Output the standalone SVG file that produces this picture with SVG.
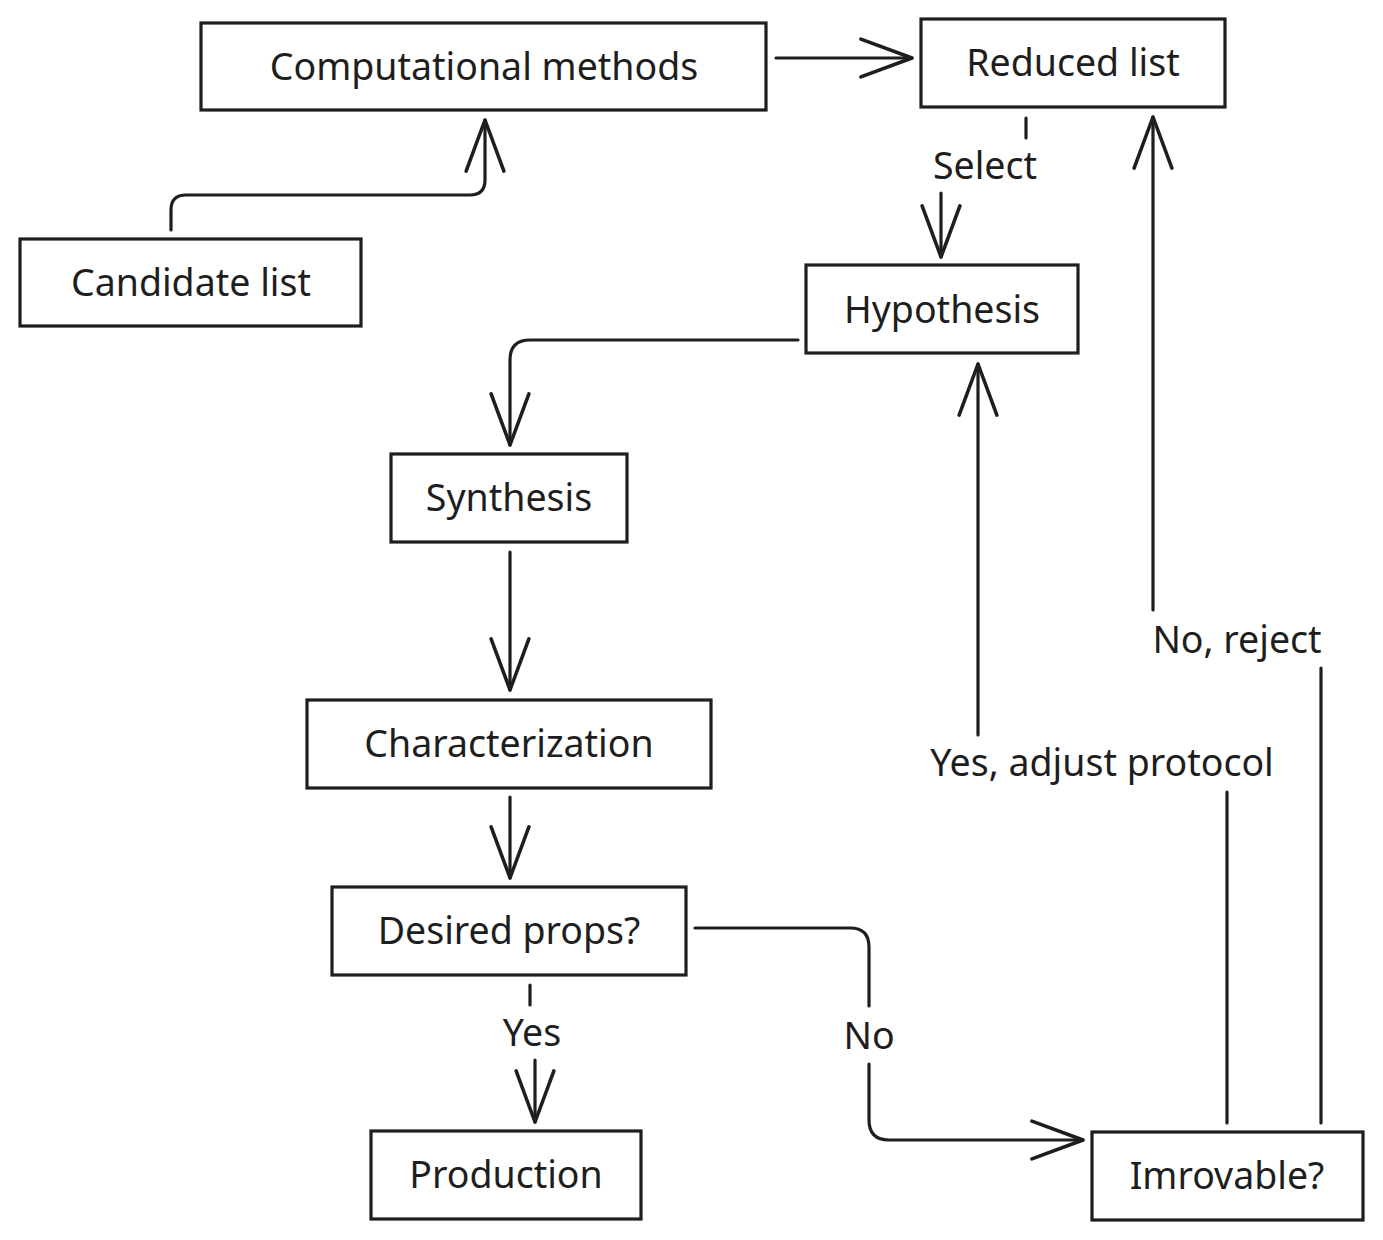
<svg xmlns="http://www.w3.org/2000/svg" width="1383" height="1240" viewBox="0 0 1383 1240">
<style>
.box{fill:#fff;stroke:#1e1e1e;stroke-width:3.2}
.t{font-family:"Noto Sans","Open Sans",sans-serif;font-size:37.5px;fill:#1e1e1e;text-anchor:middle;dominant-baseline:central}
.c{fill:none;stroke:#1e1e1e;stroke-width:3.2;stroke-linecap:round;stroke-linejoin:round}
</style>
<defs>
<marker id="ah" markerUnits="userSpaceOnUse" orient="auto" markerWidth="60" markerHeight="50" refX="0" refY="0" viewBox="-50 -22 54 44" overflow="visible">
<path d="M-46,-17 L0,0 L-46,17" fill="none" stroke="#1e1e1e" stroke-width="3.2" stroke-linecap="round" stroke-linejoin="round"/>
</marker>
</defs>
<rect width="1383" height="1240" fill="#fff"/>
<g id="connectors">
<path class="c" d="M171,230 V210 Q171,195 186,195 H470 Q485,195 485,180 V120" marker-end="url(#ah)"/>
<path class="c" d="M776,58 H912" marker-end="url(#ah)"/>
<path class="c" d="M1026,118 V138"/>
<path class="c" d="M941,193 V257" marker-end="url(#ah)"/>
<text class="t" x="985" y="164">Select</text>
<path class="c" d="M798,340 H530 Q510,340 510,360 V445" marker-end="url(#ah)"/>
<path class="c" d="M510,552 V690" marker-end="url(#ah)"/>
<path class="c" d="M510,797 V878" marker-end="url(#ah)"/>
<path class="c" d="M530,985 V1005"/>
<text class="t" x="532" y="1031">Yes</text>
<path class="c" d="M535,1060 V1122" marker-end="url(#ah)"/>
<path class="c" d="M695,928 H850 Q869,928 869,947 V1006"/>
<text class="t" x="869" y="1034">No</text>
<path class="c" d="M869,1064 V1120 Q869,1140 889,1140 H1083" marker-end="url(#ah)"/>
<path class="c" d="M1227,1123 V792"/>
<text class="t" x="1102" y="761">Yes, adjust protocol</text>
<path class="c" d="M978,735 V364" marker-end="url(#ah)"/>
<path class="c" d="M1321,1123 V668"/>
<text class="t" x="1237" y="638">No, reject</text>
<path class="c" d="M1153,610 V117" marker-end="url(#ah)"/>
</g>
<g id="computational"><rect class="box" x="201" y="23" width="565" height="87"/><text class="t" x="484" y="65">Computational methods</text></g>
<g id="reduced"><rect class="box" x="921" y="19" width="304" height="88"/><text class="t" x="1073" y="61">Reduced list</text></g>
<g id="candidate"><rect class="box" x="20" y="239" width="341" height="87"/><text class="t" x="191" y="281">Candidate list</text></g>
<g id="hypothesis"><rect class="box" x="806" y="265" width="272" height="88"/><text class="t" x="942" y="308">Hypothesis</text></g>
<g id="synthesis"><rect class="box" x="391" y="454" width="236" height="88"/><text class="t" x="509" y="496">Synthesis</text></g>
<g id="characterization"><rect class="box" x="307" y="700" width="404" height="88"/><text class="t" x="509" y="742">Characterization</text></g>
<g id="desired"><rect class="box" x="332" y="887" width="354" height="88"/><text class="t" x="509" y="929">Desired props?</text></g>
<g id="production"><rect class="box" x="371" y="1131" width="270" height="88"/><text class="t" x="506" y="1173">Production</text></g>
<g id="improvable"><rect class="box" x="1092" y="1132" width="271" height="88"/><text class="t" x="1227" y="1174">Imrovable?</text></g>
</svg>
